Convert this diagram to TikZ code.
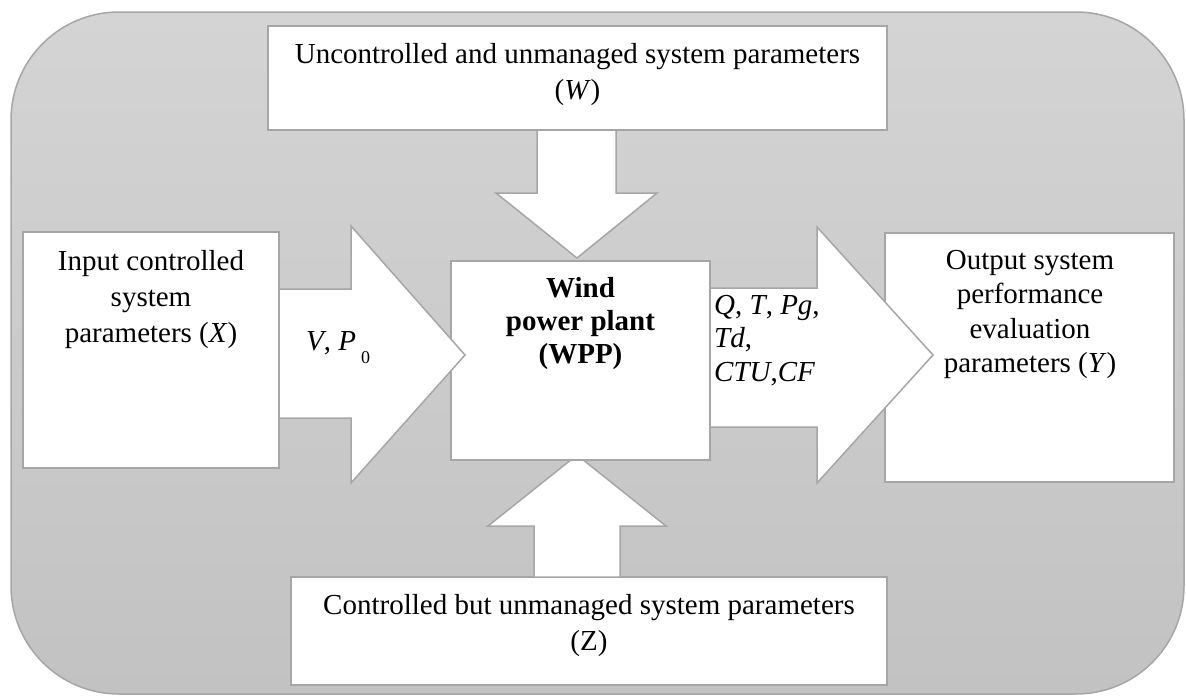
\documentclass[tikz,border=0pt]{standalone}
\usepackage{fontspec}
\setmainfont{Liberation Serif}
\definecolor{bgtop}{RGB}{212,212,212}
\definecolor{bgbot}{RGB}{194,194,194}
\definecolor{edge}{RGB}{166,166,166}
\begin{document}
\begin{tikzpicture}[x=1pt,y=-1pt,line join=miter,
  box/.style={draw=edge, fill=white, line width=1.5pt, inner sep=0pt, outer sep=0pt},
  blockarrow/.style={draw=edge, fill=white, line width=1.5pt, line join=miter},
  txt/.style={inner sep=0pt, align=center, anchor=north, font=\fontsize{29}{36}\selectfont}]
\useasboundingbox (0,0) rectangle (1186,696);
% background panel
\path[top color=bgtop, bottom color=bgbot, draw=edge, line width=1.5pt, rounded corners=108pt]
  (11,12) rectangle (1184,694);
% outer boxes
\node[box, minimum width=289pt, minimum height=249pt] (Y) at (1029.5,357.5) {};
\node[box, minimum width=596pt, minimum height=108pt] (Z) at (589,631) {};
\node[box, minimum width=619pt, minimum height=104pt] (W) at (577.5,78) {};
% bottom (up) block arrow
\draw[blockarrow] (534,577) -- (620,577) -- (620,526) -- (666,526) -- (577,455)
  -- (488,526) -- (534,526) -- cycle;
% top (down) block arrow
\draw[blockarrow] (537,130) -- (616,130) -- (616,193) -- (657,193) -- (577,258)
  -- (496,193) -- (537,193) -- cycle;
% right block arrow
\draw[blockarrow] (710,288) -- (817,288) -- (817,227) -- (933,355) -- (817,483)
  -- (817,427) -- (710,427) -- cycle;
% central box
\node[box, minimum width=259pt, minimum height=199pt] (WPP) at (580.5,360.5) {};
% left block arrow
\draw[blockarrow] (279,289) -- (351,289) -- (351,226) -- (465,355) -- (351,483)
  -- (351,418) -- (279,418) -- cycle;
\node[box, minimum width=256pt, minimum height=236pt] (X) at (151,350) {};
% texts
\node[txt] (Wt) at (577.5,43) {Uncontrolled and unmanaged system parameters\\(\textit{W})};
\node[txt] (Zt) at (589,594) {Controlled but unmanaged system parameters\\(Z)};
\node[txt] (Xt) at (151,250) {Input controlled\\system\\parameters (\textit{X})};
\node[txt, font=\fontsize{29}{34.5}\selectfont] (Yt) at (1030,250) {Output system\\performance\\evaluation\\parameters (\textit{Y})};
\node[txt, font=\fontsize{29}{33}\selectfont\bfseries] (WPPt) at (580.5,277) {Wind\\power plant\\(WPP)};
\node[inner sep=0pt, anchor=base west, font=\fontsize{29}{36}\selectfont] (in) at (306,350)
  {\textit{V}, \textit{P}\hspace{5pt}\raisebox{-13pt}{\fontsize{18}{18}\selectfont 0}};
\node[inner sep=0pt, anchor=north west, align=left, font=\fontsize{29}{33.5}\selectfont] (out) at (714,295)
  {\textit{Q}, \textit{T}, \textit{Pg},\\\textit{Td},\\\textit{CTU},\textit{CF}};
\end{tikzpicture}
\end{document}
